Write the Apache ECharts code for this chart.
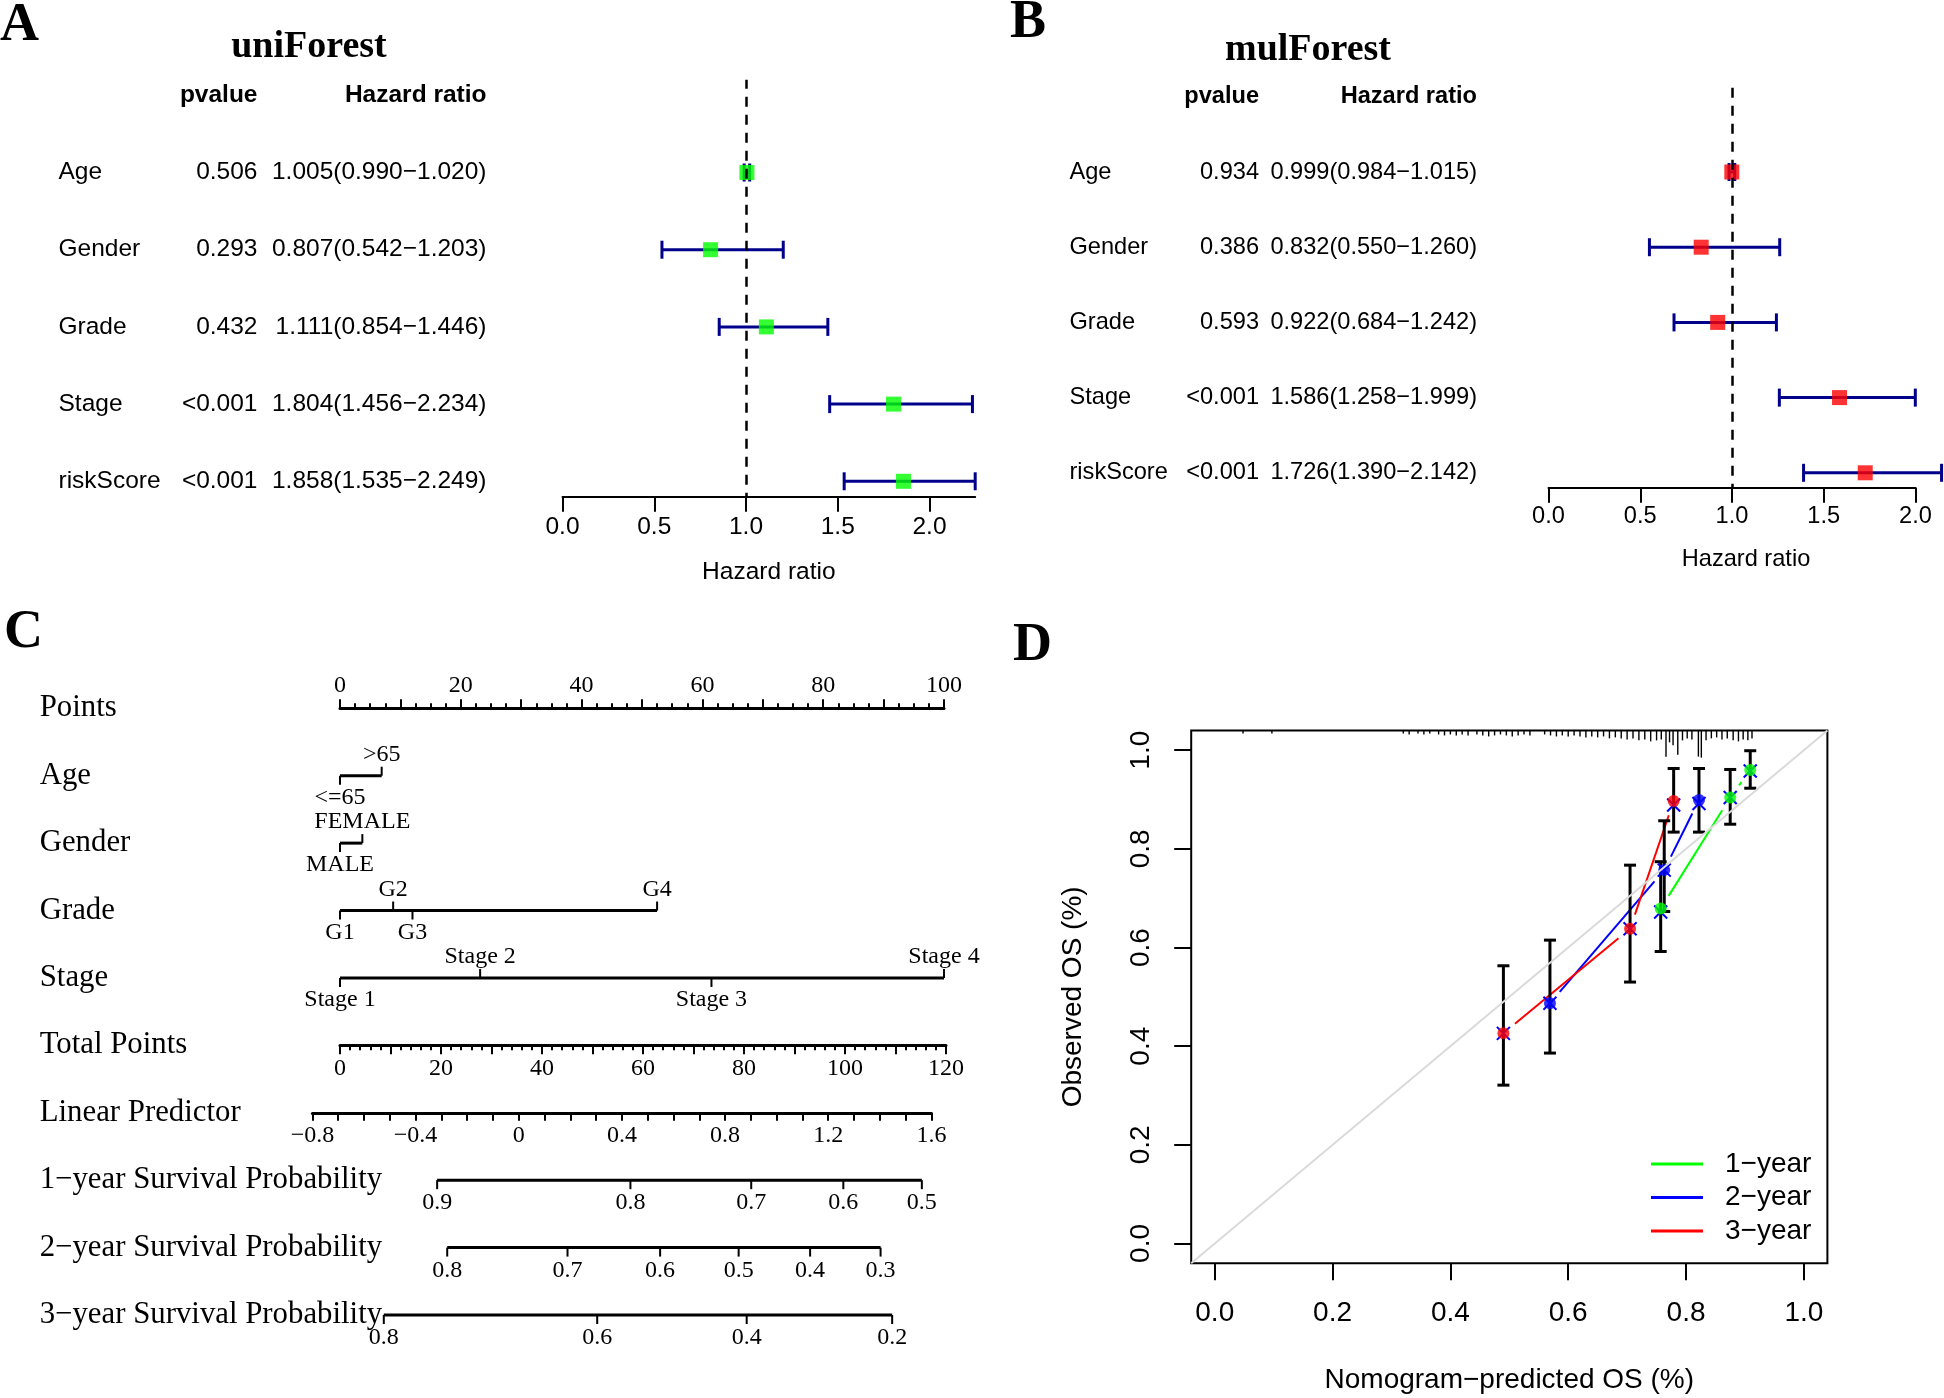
<!DOCTYPE html>
<html><head><meta charset="utf-8">
<script src="https://cdn.jsdelivr.net/npm/echarts@6/dist/echarts.min.js"></script>
<style>html,body{margin:0;padding:0;background:#fff}#c{width:1944px;height:1398px}</style>
</head><body><div id="c"></div>
<script>
// ================= DATA =================
// Panels A/B: forest plots
const forestVars = ['Age', 'Gender', 'Grade', 'Stage', 'riskScore'];
const uniP = ['0.506', '0.293', '0.432', '<0.001', '<0.001'];
const uniHR = [1.005, 0.807, 1.111, 1.804, 1.858];
const uniLow = [0.990, 0.542, 0.854, 1.456, 1.535];
const uniHigh = [1.020, 1.203, 1.446, 2.234, 2.249];
const mulP = ['0.934', '0.386', '0.593', '<0.001', '<0.001'];
const mulHR = [0.999, 0.832, 0.922, 1.586, 1.726];
const mulLow = [0.984, 0.550, 0.684, 1.258, 1.390];
const mulHigh = [1.015, 1.260, 1.242, 1.999, 2.142];
const hrTicks = [0, 0.5, 1, 1.5, 2];

// Panel C: nomogram
const nomoRows = ['Points', 'Age', 'Gender', 'Grade', 'Stage', 'Total Points', 'Linear Predictor',
  '1\u2212year Survival Probability', '2\u2212year Survival Probability', '3\u2212year Survival Probability'];
const ageLevels = ['<=65', '>65'];
const agePoints = [0, 6.9];
const genderLevels = ['MALE', 'FEMALE'];
const genderPoints = [0, 3.7];
const gradeLevels = ['G1', 'G2', 'G3', 'G4'];
const gradePoints = [0, 8.8, 12.0, 52.5];
const stageLevels = ['Stage 1', 'Stage 2', 'Stage 3', 'Stage 4'];
const stagePoints = [0, 23.2, 61.5, 100];
const surv1Labels = ['0.9', '0.8', '0.7', '0.6', '0.5'];
const surv1TotalPoints = [19.3, 57.7, 81.7, 100.0, 115.6];
const surv2Labels = ['0.8', '0.7', '0.6', '0.5', '0.4', '0.3'];
const surv2TotalPoints = [21.3, 45.2, 63.6, 79.2, 93.4, 107.4];
const surv3Labels = ['0.8', '0.6', '0.4', '0.2'];
const surv3TotalPoints = [8.7, 51.1, 80.8, 109.7];

// Panel D: calibration
const calNames = ['1\u2212year', '2\u2212year', '3\u2212year'];
const cal1X = [0.757, 0.875, 0.909];
const cal1Y = [0.679, 0.904, 0.960];
const cal1Lo = [0.592, 0.850, 0.923];
const cal1Hi = [0.774, 0.961, 0.999];
const cal1Cor = [0.672, 0.904, 0.958];
const cal2X = [0.569, 0.763, 0.822];
const cal2Y = [0.487, 0.757, 0.899];
const cal2Lo = [0.386, 0.673, 0.834];
const cal2Hi = [0.615, 0.857, 0.963];
const cal2Cor = [0.487, 0.757, 0.892];
const cal3X = [0.490, 0.705, 0.779];
const cal3Y = [0.426, 0.638, 0.897];
const cal3Lo = [0.321, 0.530, 0.834];
const cal3Hi = [0.563, 0.767, 0.963];
const cal3Cor = [0.426, 0.638, 0.889];
const rugX = [0.048, 0.097, 0.320, 0.330, 0.345, 0.355, 0.365, 0.380, 0.390, 0.400, 0.410, 0.420, 0.430, 0.445,
  0.455, 0.465, 0.475, 0.485, 0.495, 0.505, 0.515, 0.525, 0.535, 0.560, 0.570, 0.580, 0.590, 0.600, 0.610,
  0.620, 0.630, 0.640, 0.650, 0.660, 0.670, 0.680, 0.690, 0.700, 0.710, 0.720, 0.730, 0.740, 0.750, 0.758,
  0.766, 0.772, 0.778, 0.786, 0.794, 0.802, 0.810, 0.821, 0.826, 0.834, 0.843, 0.852, 0.861, 0.870, 0.880,
  0.889, 0.897, 0.905, 0.912];
const rugLen = [0.006, 0.006, 0.006, 0.008, 0.006, 0.008, 0.006, 0.008, 0.010, 0.008, 0.010, 0.008, 0.010, 0.008,
  0.010, 0.012, 0.010, 0.008, 0.010, 0.012, 0.010, 0.008, 0.010, 0.008, 0.010, 0.012, 0.010, 0.012, 0.010,
  0.012, 0.014, 0.012, 0.014, 0.012, 0.016, 0.014, 0.016, 0.018, 0.016, 0.020, 0.018, 0.022, 0.020, 0.018,
  0.053, 0.024, 0.030, 0.049, 0.020, 0.016, 0.018, 0.053, 0.055, 0.020, 0.016, 0.014, 0.018, 0.016, 0.020,
  0.022, 0.018, 0.020, 0.016];
const calTicks = [0, 0.2, 0.4, 0.6, 0.8, 1.0];

// ================= STYLE / LAYOUT =================
const SANS = '"Liberation Sans", Arial, sans-serif';
const SERIF = '"Liberation Serif", "Times New Roman", serif';
const DARKBLUE = '#00008B';

const opt = {
  animation: false, backgroundColor: '#fff',
  grid: [], xAxis: [], yAxis: [], series: [], graphic: []
};

function hrText(h, l, u) { return h.toFixed(3) + '(' + l.toFixed(3) + '\u2212' + u.toFixed(3) + ')'; }

function forest(cfg) {
  const n = forestVars.length;
  const FS = cfg.fs;
  const rows = [''].concat(forestVars);
  // text table grid
  const tg = opt.grid.length;
  opt.grid.push({ left: cfg.textLeft, top: cfg.rowTop - 1.5 * cfg.rowH, width: 10, height: 6 * cfg.rowH, outerBoundsMode: 'none' });
  opt.xAxis.push({ gridIndex: tg, type: 'value', show: false });
  const rich = { h: { fontWeight: 'bold', fontFamily: SANS, fontSize: FS, color: '#000' } };
  const mk = (margin, align, fmt) => ({
    gridIndex: tg, type: 'category', data: rows, inverse: true, position: 'left', offset: 0,
    axisLine: { show: false }, axisTick: { show: false }, splitLine: { show: false },
    axisLabel: { interval: 0, margin: margin, align: align, color: '#000', fontFamily: SANS, fontSize: FS, formatter: fmt, rich: rich }
  });
  opt.yAxis.push(mk(cfg.textLeft - cfg.nameX, 'left', (v, i) => i === 0 ? '' : forestVars[i - 1]));
  opt.yAxis.push(mk(cfg.textLeft - cfg.pX, 'right', (v, i) => i === 0 ? '{h|pvalue}' : cfg.p[i - 1]));
  opt.yAxis.push(mk(cfg.textLeft - cfg.hrX, 'right', (v, i) => i === 0 ? '{h|Hazard ratio}' : hrText(cfg.hr[i - 1], cfg.low[i - 1], cfg.high[i - 1])));
  // plot grid
  const pg = opt.grid.length, xi = opt.xAxis.length, yi = opt.yAxis.length;
  opt.grid.push({ left: cfg.plotLeft, top: cfg.rowTop - 1.2 * cfg.rowH, width: cfg.xmax * cfg.pxUnit, height: 5.4 * cfg.rowH, outerBoundsMode: 'none' });
  opt.xAxis.push({
    gridIndex: pg, type: 'value', min: 0, max: cfg.xmax, interval: 0.5, position: 'bottom',
    axisLine: { show: true, onZero: false, lineStyle: { color: '#000', width: 2 } },
    axisTick: { show: true, length: 15, customValues: hrTicks, lineStyle: { color: '#000', width: 2 } },
    axisLabel: { customValues: hrTicks, margin: cfg.labMargin, color: '#000', fontFamily: SANS, fontSize: FS,
      formatter: v => (Math.abs(v * 2 - Math.round(v * 2)) < 1e-6 ? v.toFixed(1) : '') },
    splitLine: { show: false },
    name: 'Hazard ratio', nameLocation: 'middle', nameGap: cfg.nameGap,
    nameTextStyle: { color: '#000', fontFamily: SANS, fontSize: FS, padding: cfg.namePad }
  });
  opt.yAxis.push({ gridIndex: pg, type: 'value', min: 0.8, max: 6.2, show: false });
  opt.series.push({
    type: 'custom', xAxisIndex: xi, yAxisIndex: yi, clip: false, silent: true,
    data: forestVars.map((v, i) => [cfg.low[i], n - i, cfg.high[i]]),
    renderItem: (p, api) => {
      const a = api.coord([api.value(0), api.value(1)]);
      const b = api.coord([api.value(2), api.value(1)]);
      const c = 9, st = { stroke: DARKBLUE, lineWidth: 3 };
      return { type: 'group', children: [
        { type: 'line', shape: { x1: a[0], y1: a[1], x2: b[0], y2: b[1] }, style: st },
        { type: 'line', shape: { x1: a[0], y1: a[1] - c, x2: a[0], y2: a[1] + c }, style: st },
        { type: 'line', shape: { x1: b[0], y1: b[1] - c, x2: b[0], y2: b[1] + c }, style: st }
      ] };
    },
    markLine: { silent: true, symbol: 'none', label: { show: false },
      lineStyle: { color: '#000', width: 2.5, type: [10, 8], dashOffset: 6 }, data: [{ xAxis: 1 }] }
  });
  opt.series.push({
    type: 'scatter', xAxisIndex: xi, yAxisIndex: yi, clip: false, silent: true,
    symbol: 'rect', symbolSize: 15, itemStyle: { color: cfg.color },
    data: cfg.hr.map((h, i) => [h, n - i])
  });
}

forest({ p: uniP, hr: uniHR, low: uniLow, high: uniHigh, color: '#00FF00', fs: 24.5,
  textLeft: 540, nameX: 58.5, pX: 257.5, hrX: 486.5, rowTop: 172.5, rowH: 77.2,
  plotLeft: 562.5, pxUnit: 183.5, xmax: Math.max(...uniHigh), labMargin: 18, nameGap: 63, namePad: 0 });
forest({ p: mulP, hr: mulHR, low: mulLow, high: mulHigh, color: '#FF0000', fs: 23.6,
  textLeft: 1530, nameX: 1069.5, pX: 1259, hrX: 1477, rowTop: 172, rowH: 75.2,
  plotLeft: 1548.5, pxUnit: 183.5, xmax: 2, labMargin: 17, nameGap: 60, namePad: [0, 0, 0, 28] });

// ================= PANEL C: nomogram =================
const NL = 340, NW = 604, row0 = 708.3, rowStep = 67.41;
const tickLabelStyle = { color: '#000', fontFamily: SERIF, fontSize: 24 };
// Points scale
let g = opt.grid.length;
opt.grid.push({ left: NL, top: row0, width: NW, height: 10, outerBoundsMode: 'none' });
opt.xAxis.push({ gridIndex: g, type: 'value', min: 0, max: 100, interval: 10, position: 'top',
  axisLine: { show: true, onZero: false, lineStyle: { color: '#000', width: 3 } },
  axisTick: { length: 9, lineStyle: { color: '#000', width: 2 } },
  minorTick: { show: true, splitNumber: 4, length: 5, lineStyle: { color: '#000', width: 2 } },
  axisLabel: Object.assign({ margin: 11, formatter: v => (v % 20 === 0 ? String(v) : '') }, tickLabelStyle),
  splitLine: { show: false }, minorSplitLine: { show: false } });
opt.yAxis.push({ gridIndex: g, type: 'value', show: false });
// Total points scale
g = opt.grid.length;
opt.grid.push({ left: NL, top: row0 + 5 * rowStep - 10, width: NW + 2, height: 10, outerBoundsMode: 'none' });
opt.xAxis.push({ gridIndex: g, type: 'value', min: 0, max: 120, interval: 10, position: 'bottom',
  axisLine: { show: true, onZero: false, lineStyle: { color: '#000', width: 3 } },
  axisTick: { length: 9, lineStyle: { color: '#000', width: 2 } },
  minorTick: { show: true, splitNumber: 5, length: 5, lineStyle: { color: '#000', width: 2 } },
  axisLabel: Object.assign({ margin: 11, formatter: v => (v % 20 === 0 ? String(v) : '') }, tickLabelStyle),
  splitLine: { show: false }, minorSplitLine: { show: false } });
opt.yAxis.push({ gridIndex: g, type: 'value', show: false });
// Linear predictor scale
g = opt.grid.length;
opt.grid.push({ left: 312.4, top: row0 + 6 * rowStep - 10, width: 619, height: 10, outerBoundsMode: 'none' });
opt.xAxis.push({ gridIndex: g, type: 'value', min: -0.8, max: 1.6, interval: 0.1, position: 'bottom',
  axisLine: { show: true, onZero: false, lineStyle: { color: '#000', width: 3 } },
  axisTick: { length: 8, lineStyle: { color: '#000', width: 2 } },
  axisLabel: Object.assign({ margin: 11, formatter: v => {
    const k = Math.round(v * 10);
    if (k % 4 !== 0) return '';
    if (k === 0) return '0';
    return (k < 0 ? '\u2212' : '') + Math.abs(v).toFixed(1);
  } }, tickLabelStyle),
  splitLine: { show: false } });
opt.yAxis.push({ gridIndex: g, type: 'value', show: false });
// Row grid for names + categorical / survival scales
g = opt.grid.length;
const xPts = opt.xAxis.length, xTP = xPts + 1, yRow = opt.yAxis.length;
opt.grid.push({ left: NL, top: row0 - rowStep / 2, width: NW, height: rowStep * 10, outerBoundsMode: 'none' });
opt.xAxis.push({ gridIndex: g, type: 'value', min: 0, max: 100, show: false });
opt.xAxis.push({ gridIndex: g, type: 'value', min: 0, max: 120, show: false });
opt.yAxis.push({ gridIndex: g, type: 'category', data: nomoRows, inverse: true, position: 'left',
  axisLine: { show: false }, axisTick: { show: false }, splitLine: { show: false },
  axisLabel: { interval: 0, align: 'left', margin: NL - 39.7, color: '#000', fontFamily: SERIF, fontSize: 30.8 } });

const catLevels = [ageLevels, genderLevels, gradeLevels, stageLevels];
const catPoints = [agePoints, genderPoints, gradePoints, stagePoints];
opt.series.push({
  type: 'custom', xAxisIndex: xPts, yAxisIndex: yRow, clip: false, silent: true,
  data: catLevels.map((l, k) => [k, k + 1]),
  renderItem: (p, api) => {
    const k = api.value(0), row = api.value(1);
    const lv = catLevels[k], pts = catPoints[k];
    const y = api.coord([0, row])[1];
    const xs = pts.map(v => api.coord([v, row])[0]);
    const ch = [{ type: 'line', shape: { x1: Math.min(...xs), y1: y, x2: Math.max(...xs), y2: y }, style: { stroke: '#000', lineWidth: 3 } }];
    xs.forEach((x, i) => {
      const up = i % 2 === 1;
      ch.push({ type: 'line', shape: { x1: x, y1: y, x2: x, y2: up ? y - 9 : y + 9 }, style: { stroke: '#000', lineWidth: 2 } });
      ch.push({ type: 'text', style: { text: lv[i], x: x, y: up ? y - 21 : y + 22, align: 'center', verticalAlign: 'middle',
        fontFamily: SERIF, fontSize: 24, fill: '#000' } });
    });
    return { type: 'group', children: ch };
  }
});
const svLabels = [surv1Labels, surv2Labels, surv3Labels];
const svPoints = [surv1TotalPoints, surv2TotalPoints, surv3TotalPoints];
opt.series.push({
  type: 'custom', xAxisIndex: xTP, yAxisIndex: yRow, clip: false, silent: true,
  data: svLabels.map((l, k) => [k, k + 7]),
  renderItem: (p, api) => {
    const k = api.value(0), row = api.value(1);
    const lv = svLabels[k], pts = svPoints[k];
    const y = api.coord([0, row])[1];
    const xs = pts.map(v => api.coord([v, row])[0]);
    const ch = [{ type: 'line', shape: { x1: Math.min(...xs), y1: y, x2: Math.max(...xs), y2: y }, style: { stroke: '#000', lineWidth: 3 } }];
    xs.forEach((x, i) => {
      ch.push({ type: 'line', shape: { x1: x, y1: y, x2: x, y2: y + 9 }, style: { stroke: '#000', lineWidth: 2 } });
      ch.push({ type: 'text', style: { text: lv[i], x: x, y: y + 23, align: 'center', verticalAlign: 'middle',
        fontFamily: SERIF, fontSize: 24, fill: '#000' } });
    });
    return { type: 'group', children: ch };
  }
});

// ================= PANEL D: calibration =================
const calMin = -0.04, calMax = 1.04;
g = opt.grid.length;
const xBox = opt.xAxis.length, yBox = opt.yAxis.length;
opt.grid.push({ left: 1191.2, top: 730.5, width: 636.2, height: 532.7, show: true, borderColor: '#000', borderWidth: 2,
  backgroundColor: 'transparent', outerBoundsMode: 'none' });
const dLab = { color: '#000', fontFamily: SANS, fontSize: 28 };
opt.xAxis.push({ gridIndex: g, type: 'value', min: calMin, max: calMax, position: 'bottom',
  axisLine: { show: false, onZero: false }, axisTick: { show: true, inside: false, length: 17, customValues: calTicks, lineStyle: { color: '#000', width: 2 } },
  axisLabel: Object.assign({ margin: 36, customValues: calTicks, formatter: v => v.toFixed(1) }, dLab), splitLine: { show: false },
  name: 'Nomogram\u2212predicted OS (%)', nameLocation: 'middle', nameGap: 103, nameTextStyle: dLab });
opt.yAxis.push({ gridIndex: g, type: 'value', min: calMin, max: calMax, position: 'left',
  axisLine: { show: false, onZero: false }, axisTick: { show: true, inside: false, length: 17, customValues: calTicks, lineStyle: { color: '#000', width: 2 } },
  axisLabel: Object.assign({ margin: 36, rotate: 90, customValues: calTicks, formatter: v => v.toFixed(1) }, dLab), splitLine: { show: false },
  name: 'Observed OS (%)', nameLocation: 'middle', nameGap: 104, nameTextStyle: dLab });

// diagonal reference
opt.series.push({ type: 'line', xAxisIndex: xBox, yAxisIndex: yBox, clip: false, silent: true, symbol: 'none',
  lineStyle: { color: '#DADADA', width: 2 }, data: [[calMin, calMin], [calMax, calMax]] });
// rug of predicted values
opt.series.push({ type: 'custom', xAxisIndex: xBox, yAxisIndex: yBox, clip: false, silent: true,
  data: rugX.map((x, i) => [x, rugLen[i]]),
  renderItem: (p, api) => {
    const a = api.coord([api.value(0), calMax]);
    const b = api.coord([api.value(0), calMax - api.value(1)]);
    return { type: 'line', shape: { x1: a[0], y1: a[1], x2: b[0], y2: b[1] }, style: { stroke: '#000', lineWidth: 1.4 } };
  } });
const calSets = [
  { x: cal1X, y: cal1Y, lo: cal1Lo, hi: cal1Hi, cor: cal1Cor, color: '#00FF00' },
  { x: cal2X, y: cal2Y, lo: cal2Lo, hi: cal2Hi, cor: cal2Cor, color: '#0000FF' },
  { x: cal3X, y: cal3Y, lo: cal3Lo, hi: cal3Hi, cor: cal3Cor, color: '#FF0000' }
];
calSets.forEach((s, k) => {
  const segs = [];
  for (let i = 0; i < s.x.length - 1; i++) segs.push([s.x[i], s.y[i], s.x[i + 1], s.y[i + 1]]);
  opt.series.push({ type: 'custom', name: calNames[k], xAxisIndex: xBox, yAxisIndex: yBox, clip: false, silent: true,
    itemStyle: { color: s.color }, data: segs,
    renderItem: (p, api) => {
      const a = api.coord([api.value(0), api.value(1)]);
      const b = api.coord([api.value(2), api.value(3)]);
      const dx = b[0] - a[0], dy = b[1] - a[1], L = Math.sqrt(dx * dx + dy * dy), gap = 15;
      if (L <= 2 * gap) return null;
      const ux = dx / L, uy = dy / L;
      return { type: 'line', shape: { x1: a[0] + ux * gap, y1: a[1] + uy * gap, x2: b[0] - ux * gap, y2: b[1] - uy * gap },
        style: { stroke: s.color, lineWidth: 2 } };
    } });
  opt.series.push({ type: 'scatter', xAxisIndex: xBox, yAxisIndex: yBox, clip: false, silent: true,
    symbol: 'circle', symbolSize: 12, itemStyle: { color: s.color }, data: s.x.map((x, i) => [x, s.y[i]]) });
});
calSets.forEach((s) => {
  opt.series.push({ type: 'custom', xAxisIndex: xBox, yAxisIndex: yBox, clip: false, silent: true,
    data: s.x.map((x, i) => [x, s.lo[i], s.hi[i]]),
    renderItem: (p, api) => {
      const a = api.coord([api.value(0), api.value(1)]);
      const b = api.coord([api.value(0), api.value(2)]);
      const c = 6, st = { stroke: '#000', lineWidth: 3 };
      return { type: 'group', children: [
        { type: 'line', shape: { x1: a[0], y1: a[1], x2: b[0], y2: b[1] }, style: st },
        { type: 'line', shape: { x1: a[0] - c, y1: a[1], x2: a[0] + c, y2: a[1] }, style: st },
        { type: 'line', shape: { x1: b[0] - c, y1: b[1], x2: b[0] + c, y2: b[1] }, style: st }
      ] };
    } });
});
calSets.forEach((s) => {
  opt.series.push({ type: 'custom', xAxisIndex: xBox, yAxisIndex: yBox, clip: false, silent: true,
    data: s.x.map((x, i) => [x, s.cor[i]]),
    renderItem: (p, api) => {
      const a = api.coord([api.value(0), api.value(1)]);
      const c = 6.5, st = { stroke: '#0000FF', lineWidth: 2 };
      return { type: 'group', children: [
        { type: 'line', shape: { x1: a[0] - c, y1: a[1] - c, x2: a[0] + c, y2: a[1] + c }, style: st },
        { type: 'line', shape: { x1: a[0] - c, y1: a[1] + c, x2: a[0] + c, y2: a[1] - c }, style: st }
      ] };
    } });
});
opt.legend = { orient: 'vertical', left: 1646, top: 1145, itemWidth: 52, itemHeight: 3, itemGap: 5.5, icon: 'rect',
  selectedMode: false, data: calNames,
  textStyle: { color: '#000', fontFamily: SANS, fontSize: 28, padding: [0, 0, 0, 17] } };

// ================= titles / panel letters =================
const T = (text, x, y, size, align) => ({ type: 'text', x: x, y: y, silent: true,
  style: { text: text, fill: '#000', font: 'bold ' + size + 'px ' + SERIF, align: align, verticalAlign: 'middle' } });
opt.graphic = [
  T('A', 0, 26, 54, 'left'), T('B', 1010, 23, 54, 'left'), T('C', 4, 633, 54, 'left'), T('D', 1013, 646, 54, 'left'),
  T('uniForest', 309, 47, 38, 'center'), T('mulForest', 1308, 50, 38, 'center')
];

const chart = echarts.init(document.getElementById('c'), null, { renderer: 'canvas', width: 1944, height: 1398 });
chart.setOption(opt);
</script></body></html>
